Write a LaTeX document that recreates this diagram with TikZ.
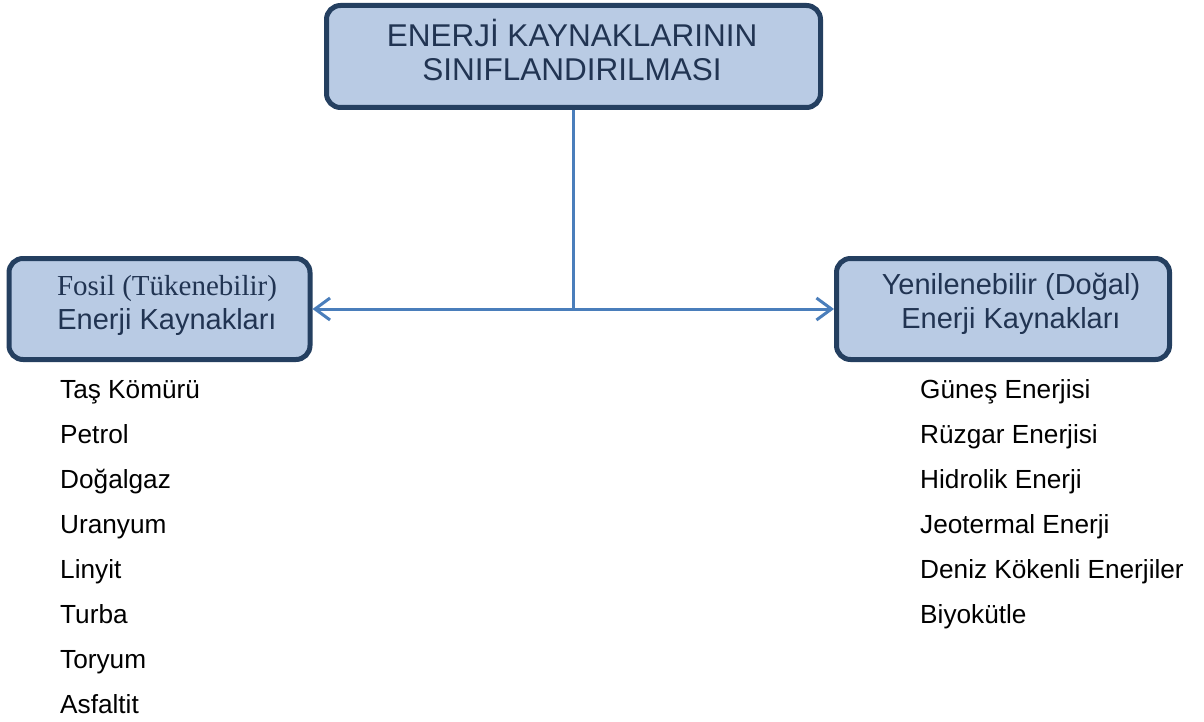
\documentclass[tikz,border=0pt]{standalone}
\usepackage{fontspec}
\setmainfont{Liberation Sans}
\newfontfamily\serifyazi{Liberation Serif}
\usetikzlibrary{arrows.meta}

\definecolor{kutudolgu}{RGB}{185,203,228}
\definecolor{kutucizgi}{RGB}{36,63,96}
\definecolor{okrengi}{RGB}{74,126,187}
\definecolor{yazirengi}{RGB}{33,52,82}

\tikzset{
	kutu/.style={draw=kutucizgi, fill=kutudolgu, line width=5pt, rounded corners=14pt, inner sep=0pt},
	kutuyazi/.style={text=yazirengi, align=center, inner sep=0pt, font=\fontsize{29}{34}\selectfont},
	madde/.style={anchor=base west, inner sep=0pt, font=\fontsize{26.2}{30}\selectfont},
	ok/.style={draw=okrengi, line width=3pt, -{Straight Barb[length=15pt,width=22pt]}}
}

\begin{document}
\begin{tikzpicture}[x=1pt,y=1pt]
	\useasboundingbox (0,0) rectangle (1204,-722);
	
	\node[kutu, minimum width=494pt, minimum height=102pt] (ana) at (573.5,-56.5) {};
	\node[kutuyazi, font=\fontsize{31.5}{34}\selectfont] (anayazi) at (572,-50) {ENERJİ KAYNAKLARININ\\SINIFLANDIRILMASI};
	
	\node[kutu, minimum width=301pt, minimum height=101pt] (fosil) at (159.5,-309) {};
	\node[kutuyazi] (fosilyazi) at (167,-305) {{\serifyazi Fosil (Tükenebilir)}\\Enerji Kaynakları};
	
	\node[kutu, minimum width=333pt, minimum height=101pt] (yenilenebilir) at (1003,-309) {};
	\node[kutuyazi] (yenilenebiliryazi) at (1011,-304) {Yenilenebilir (Doğal)\\Enerji Kaynakları};
	
	\coordinate (kavsak) at (ana.south |- fosil.east);
	\draw[okrengi, line width=3pt] (ana.south) -- (kavsak);
	\draw[ok] (kavsak) -- (fosil.east);
	\draw[ok] (kavsak) -- (yenilenebilir.west);
	
	\foreach \ad [count=\i] in {Taş Kömürü, Petrol, Doğalgaz, Uranyum, Linyit, Turba, Toryum, Asfaltit}{
		\node[madde] (fosil\i) at (60,{-398-45*(\i-1)}) {\ad};
	}
	\foreach \ad [count=\i] in {Güneş Enerjisi, Rüzgar Enerjisi, Hidrolik Enerji, Jeotermal Enerji, Deniz Kökenli Enerjiler, Biyokütle}{
		\node[madde] (yenilenebilir\i) at (920,{-398-45*(\i-1)}) {\ad};
	}
	
\end{tikzpicture}
\end{document}
